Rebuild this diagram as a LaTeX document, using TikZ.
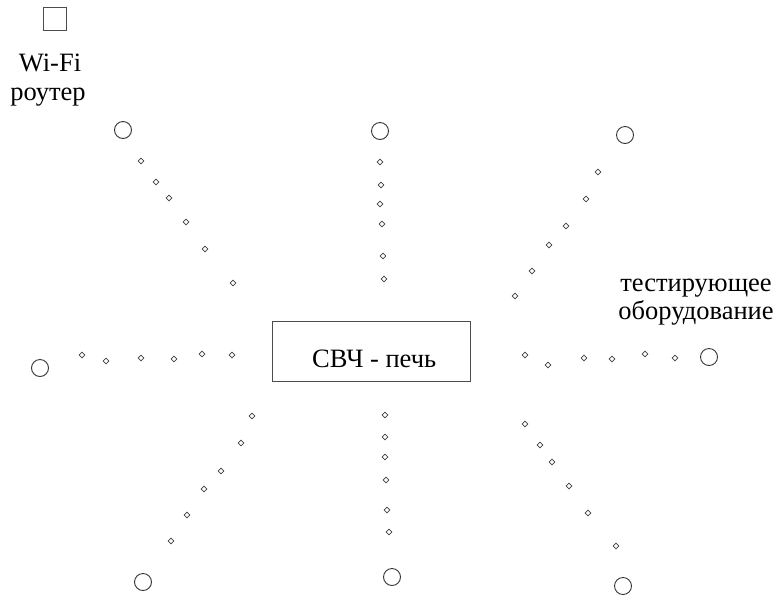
\documentclass[tikz,border=0pt]{standalone}
\usepackage{fontspec}
\setmainfont{Liberation Serif}
\usetikzlibrary{shapes.geometric}
\begin{document}
\begin{tikzpicture}[x=1pt,y=-1pt,
  ant/.style={circle,draw=black!80,line width=0.9pt,minimum size=17pt,inner sep=0},
  dot/.style={diamond,draw=black!75,line width=0.7pt,minimum size=6pt,inner sep=0},
  lbl/.style={font=\fontsize{26.5}{30}\selectfont,inner sep=0,anchor=base}]
\useasboundingbox (0,0) rectangle (775,598);
% router
\node[draw=black!70,line width=0.9pt,minimum width=23pt,minimum height=23pt,inner sep=0] (router) at (55,18.5) {};
\node[lbl] (wifi) at (50,71) {Wi-Fi};
\node[lbl] (rout) at (48,100) {роутер};
% oven
\node[draw=black!70,line width=0.9pt,minimum width=198pt,minimum height=60pt,inner sep=0] (oven) at (371,351) {};
\node[lbl,anchor=base west] (ovtext) at (312,367) {СВЧ - печь};
% test equipment label
\node[lbl] (test1) at (696,291) {тестирующее};
\node[lbl] (test2) at (696,319) {оборудование};
% antennas (circles)
\foreach \n/\x/\y in {tl/123/130, tm/380/131, tr/625/135, l/40/368, r/709/357, bl/143/582, bm/392/577, br/623/586}
  \node[ant] (c\n) at (\x,\y) {};
% measurement points (diamonds)
\foreach \n/\x/\y in {
  tl1/141/161, tl2/156/182, tl3/169/198, tl4/186/222, tl5/205/249, tl6/233/283,
  tm1/380/162, tm2/381/185, tm3/380/204, tm4/382/224, tm5/383/256, tm6/384/279,
  tr1/598/172, tr2/586/199, tr3/566/226, tr4/549/245, tr5/532/271, tr6/515/296,
  l1/82/355, l2/106/361, l3/141/358, l4/174/359, l5/202/354, l6/232/355,
  r1/525/355, r2/548/365, r3/584/358, r4/612/359, r5/645/354, r6/675/358,
  bl1/252/416, bl2/241/443, bl3/221/471, bl4/204/489, bl5/187/515, bl6/171/541,
  bm1/385/415, bm2/385/437, bm3/385/457, bm4/386/480, bm5/387/510, bm6/389/532,
  br1/525/424, br2/540/445, br3/552/462, br4/569/486, br5/588/513, br6/616/546}
  \node[dot] (d\n) at (\x,\y) {};
\end{tikzpicture}
\end{document}
